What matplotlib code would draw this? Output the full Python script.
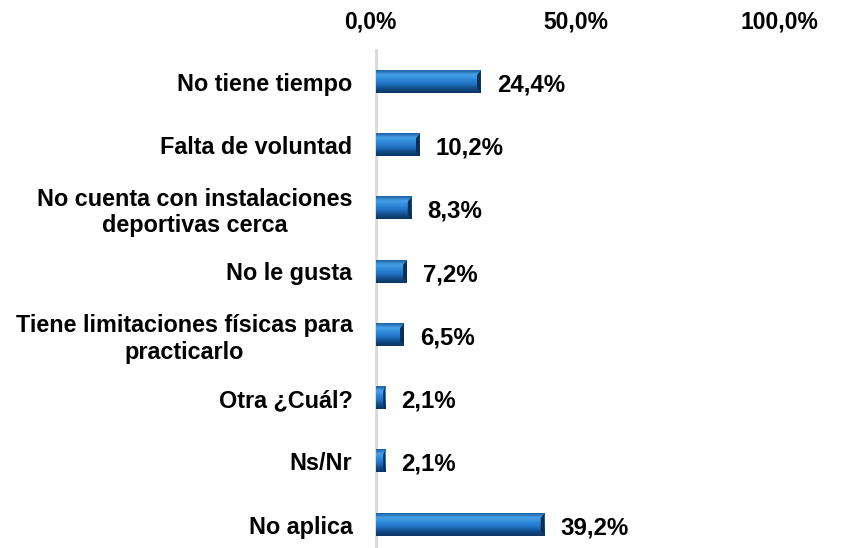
import matplotlib.pyplot as plt
import matplotlib.transforms as mtransforms
import numpy as np
from matplotlib.colors import LinearSegmentedColormap

categorias = ['No tiene tiempo', 'Falta de voluntad',
              'No cuenta con instalaciones\ndeportivas cerca', 'No le gusta',
              'Tiene limitaciones físicas para\npracticarlo', 'Otra ¿Cuál?',
              'Ns/Nr', 'No aplica']
porcentajes = [24.4, 10.2, 8.3, 7.2, 6.5, 2.1, 2.1, 39.2]
ticks_x = [0, 50, 100]

plt.rcParams['font.family'] = ['Liberation Sans', 'DejaVu Sans']
plt.rcParams['font.weight'] = 'bold'

fig = plt.figure(figsize=(8.51, 5.48), dpi=100)
ax = fig.add_axes([376 / 851, 0, (806 - 376) / 851, 1 - 50 / 548])

y = np.arange(len(categorias))
alto = 0.35

# degradado vertical para dar efecto biselado a las barras
azul = LinearSegmentedColormap.from_list(
    'bisel', ['#1d5fa3', '#47a3ea', '#2e88d8', '#2273c4', '#134d8a', '#0b3461'])
grad = np.linspace(0, 1, 64).reshape(-1, 1)

barras = ax.barh(y, porcentajes, height=alto, color='#2b7fd0',
                 edgecolor='none', zorder=2)
for b, v in zip(barras, porcentajes):
    x0, y0 = b.get_x(), b.get_y()
    ax.imshow(grad, cmap=azul, aspect='auto', zorder=3,
              extent=(x0, x0 + v, y0 + alto, y0), interpolation='bicubic')
    # tapa oscura al final de la barra
    cap = min(0.9, v * 0.2)
    ax.fill([x0 + v - cap, x0 + v, x0 + v, x0 + v - cap],
            [y0 + 0.07, y0, y0 + alto, y0 + alto - 0.07],
            color='#0a2f57', zorder=4, lw=0)
    ax.text(v + 3.7, b.get_y() + alto / 2 + 0.05, f'{v:.1f}%'.replace('.', ','),
            va='center', ha='left', fontsize=17.3, fontweight='bold', zorder=5)

ax.set_xlim(0, 100)
ax.set_ylim(7.37, -0.5)
ax.set_yticks(y)
ax.set_yticklabels(categorias, fontsize=16.8, fontweight='bold',
                   multialignment='center')
ax.set_xticks(ticks_x)
ax.set_xticklabels([f'{t:.1f}%'.replace('.', ',') for t in ticks_x],
                   fontsize=16.5, fontweight='bold')
ax.xaxis.tick_top()
ax.tick_params(axis='both', length=0)
ax.tick_params(axis='y', pad=17)
ax.tick_params(axis='x', pad=12)

# las etiquetas del eje superior van algo corridas a la izquierda
for lbl, dx in zip(ax.get_xticklabels(), [-6, -15, -27]):
    lbl.set_transform(lbl.get_transform() +
                      mtransforms.ScaledTranslation(dx / 100, 0, fig.dpi_scale_trans))

for lado in ['top', 'right', 'bottom']:
    ax.spines[lado].set_visible(False)
ax.spines['left'].set_color('#d9d9d9')
ax.spines['left'].set_linewidth(2)

plt.savefig('out.png', dpi=100)
